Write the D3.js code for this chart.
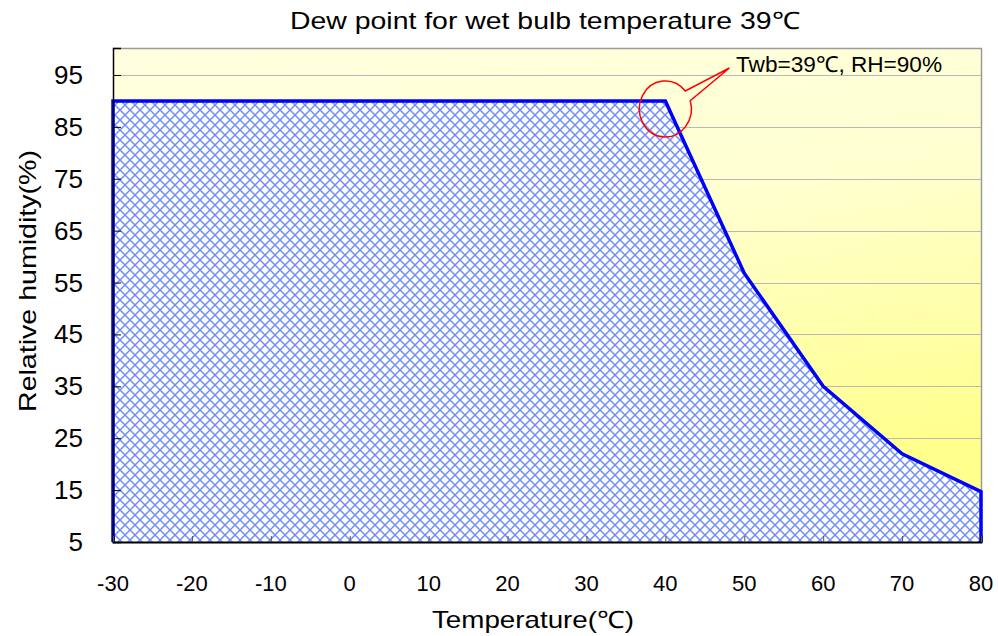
<!DOCTYPE html>
<html>
<head>
<meta charset="utf-8">
<script src="https://cdn.jsdelivr.net/npm/d3@7"></script>
<style>
  body { margin: 0; background: #fff; }
  svg text { font-family: "Liberation Sans", Arial, sans-serif; fill: #000; }
</style>
</head>
<body>
<div id="chart"></div>
<script>
const temps = [-30, 40, 50, 60, 70, 80];
const humidity = [90, 90, 56.8, 35, 22, 14.7];
const xTicks = [-30, -20, -10, 0, 10, 20, 30, 40, 50, 60, 70, 80];
const yTicks = [5, 15, 25, 35, 45, 55, 65, 75, 85, 95];
const annotation = { t: 40, rh: 90, label: "Twb=39\u2103, RH=90%" };

const width = 998;
const height = 636;
const margin = { top: 48, right: 16, bottom: 94, left: 113 };

const svg = d3.select("#chart").append("svg")
  .attr("width", width).attr("height", height);

const x = d3.scaleLinear().domain([-30, 80]).range([margin.left, width - margin.right - 1]);
const y = d3.scaleLinear().domain([5, 100.2]).range([height - margin.bottom, margin.top]);

const defs = svg.append("defs");
const grad = defs.append("linearGradient").attr("id", "bg")
  .attr("x1", 0).attr("y1", 0).attr("x2", 0.3).attr("y2", 1);
grad.append("stop").attr("offset", "0%").attr("stop-color", "#ffffe0");
grad.append("stop").attr("offset", "45%").attr("stop-color", "#ffffd2");
grad.append("stop").attr("offset", "100%").attr("stop-color", "#ffff8c");

const p = 10;
const hatch = defs.append("pattern").attr("id", "hatch")
  .attr("patternUnits", "userSpaceOnUse").attr("width", p).attr("height", p);
hatch.append("rect").attr("width", p).attr("height", p).attr("fill", "#fff");
hatch.append("path").attr("d", `M0,0L${p},${p}M${p},0L0,${p}M-1,${p - 1}L1,${p + 1}M${p - 1},-1L${p + 1},1`)
  .attr("stroke", "#6f8ef6").attr("stroke-width", 1.5).attr("fill", "none");

const x0 = x.range()[0], x1 = x.range()[1];
const y0 = y.range()[0], y1 = y.range()[1];

// plot background
svg.append("rect").attr("x", x0).attr("y", y1)
  .attr("width", x1 - x0).attr("height", y0 - y1).attr("fill", "url(#bg)");

// gridlines
svg.append("g").selectAll("line").data(yTicks.filter(d => d > 5)).join("line")
  .attr("x1", x0).attr("x2", x1)
  .attr("y1", d => Math.round(y(d)) + 0.5).attr("y2", d => Math.round(y(d)) + 0.5)
  .attr("stroke", "#b8b8b8").attr("stroke-width", 1);

// frame
svg.append("path")
  .attr("d", `M${x0},${y1 + 0.5}H${x1 + 0.5}V${y0}`)
  .attr("fill", "none").attr("stroke", "#9a9a9a").attr("stroke-width", 1.5);

// area
const area = d3.area().x((d, i) => x(temps[i])).y0(y(5)).y1(d => y(d));
svg.append("path").datum(humidity)
  .attr("d", area).attr("fill", "url(#hatch)");

const outline = temps.map((t, i) => [x(t), y(humidity[i])]);
outline.unshift([x(-30), y(5)]);
outline.push([x(80), y(5)]);
svg.append("path")
  .attr("d", d3.line()(outline))
  .attr("fill", "none").attr("stroke", "#0000ff").attr("stroke-width", 3.5)
  .attr("stroke-linejoin", "miter");

// axes
const yAxis = svg.append("g").attr("transform", `translate(${x0},0)`)
  .call(d3.axisRight(y).tickValues(yTicks).tickSize(8).tickFormat(""));
yAxis.select(".domain").attr("stroke", "#000").attr("stroke-width", 1.5);
yAxis.selectAll(".tick line").attr("stroke", "#000");

const xAxis = svg.append("g").attr("transform", `translate(0,${y0})`)
  .call(d3.axisTop(x).tickValues(xTicks).tickSize(6).tickFormat(""));
xAxis.select(".domain").attr("stroke", "#000").attr("stroke-width", 2);
xAxis.selectAll(".tick line").attr("stroke", "#555");

svg.append("g").selectAll("text").data(yTicks).join("text")
  .attr("x", 83).attr("y", d => y(d) + 9)
  .attr("text-anchor", "end").style("font-size", "26px").text(d => d);

svg.append("g").selectAll("text").data(xTicks).join("text")
  .attr("x", d => x(d)).attr("y", 591)
  .attr("text-anchor", "middle").style("font-size", "22px").text(d => d);

// titles
svg.append("text").attr("x", 290).attr("y", 29)
  .attr("textLength", 510).attr("lengthAdjust", "spacingAndGlyphs")
  .style("font-size", "24px").text("Dew point for wet bulb temperature 39\u2103");
svg.append("text").attr("x", 432).attr("y", 628)
  .attr("textLength", 202).attr("lengthAdjust", "spacingAndGlyphs")
  .style("font-size", "24px").text("Temperature(\u2103)");
svg.append("text").attr("transform", "translate(36,412) rotate(-90)")
  .attr("textLength", 262).attr("lengthAdjust", "spacingAndGlyphs")
  .style("font-size", "24px").text("Relative humidity(%)");

// annotation callout
const cx = x(annotation.t), cy = y(annotation.rh) + 8, rx = 26, ry = 28;
const tip = [x(annotation.t) + 64, 68];
const pt = a => [cx + rx * Math.cos(a * Math.PI / 180), cy + ry * Math.sin(a * Math.PI / 180)];
const pa = pt(-17), pb = pt(-40);
svg.append("path")
  .attr("d", `M${pa}A${rx},${ry} 0 1 1 ${pb}L${tip}Z`)
  .attr("fill", "none").attr("stroke", "#ff0000").attr("stroke-width", 1.5);

svg.append("text").attr("x", 736).attr("y", 72)
  .attr("textLength", 206).attr("lengthAdjust", "spacingAndGlyphs")
  .style("font-size", "22px").text(annotation.label);
</script>
</body>
</html>
